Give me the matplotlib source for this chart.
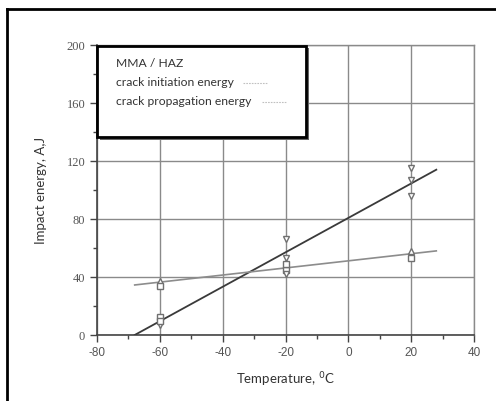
import numpy as np
import matplotlib
matplotlib.use('Agg')
import matplotlib.pyplot as plt
from matplotlib.patches import Rectangle
from matplotlib.lines import Line2D
from matplotlib.ticker import MultipleLocator

plt.rcParams['axes.unicode_minus'] = False

# données
t_init_up = [-60, -20, 20]
e_init_up = [37, 48, 58]
t_init_sq = [-60, -20, 20]
e_init_sq = [34, 45, 53]

t_prop_dn = [-60, -20, -20, -20, 20, 20, 20]
e_prop_dn = [7, 66, 53, 42, 115, 107, 96]
t_prop_sq = [-60, -60, -20]
e_prop_sq = [12.5, 10, 49]

# droites de régression (extrémités lues)
fit_t = [-68, 28]
fit_init = [34.5, 58]
fit_prop = [0, 114]

x_ticks = [-80, -60, -40, -20, 0, 20, 40]
y_ticks = [0, 40, 80, 120, 160, 200]

fig = plt.figure(figsize=(4.96, 4.01), dpi=100)
ax = fig.add_axes([97 / 496, 1 - 335 / 401, 377 / 496, 290 / 401])

# cadre de la figure (bords gauche et haut seulement visibles)
x0, y0 = 7 / 496, 1 - 9 / 401
fig.lines.append(Line2D([x0, x0], [0, y0], transform=fig.transFigure,
                        color='black', lw=2))
fig.lines.append(Line2D([x0, 1], [y0, y0], transform=fig.transFigure,
                        color='black', lw=2))

ax.set_xlim(-80, 40)
ax.set_ylim(0, 200)
ax.set_xticks(x_ticks)
ax.set_yticks(y_ticks)
ax.xaxis.set_minor_locator(MultipleLocator(10))
ax.yaxis.set_minor_locator(MultipleLocator(20))
ax.grid(True, which='major', color='#8a8a8a', lw=1)
ax.set_axisbelow(True)
ax.tick_params(which='major', direction='out', length=5, width=1, color='#444444')
ax.tick_params(which='minor', direction='out', length=3, width=1, color='#444444')
for lab in ax.get_xticklabels():
    lab.set_family('Liberation Sans')
    lab.set_fontsize(8.5)
    lab.set_color('#555555')
for lab in ax.get_yticklabels():
    lab.set_family('Liberation Serif')
    lab.set_fontsize(9)
    lab.set_color('#555555')
for s in ['left', 'bottom']:
    ax.spines[s].set_color('#444444')
    ax.spines[s].set_linewidth(1.2)
for s in ['top', 'right']:
    ax.spines[s].set_color('#8a8a8a')
    ax.spines[s].set_linewidth(1)

ax.plot(fit_t, fit_prop, color='#3a3a3a', lw=1.3, zorder=3)
ax.plot(fit_t, fit_init, color='#8c8c8c', lw=1.2, zorder=3)

mk = dict(linestyle='none', mfc='white', mec='#707070', mew=1, ms=5, zorder=4)
ax.plot(t_init_up, e_init_up, marker='^', **mk)
ax.plot(t_init_sq, e_init_sq, marker='s', **mk)
ax.plot(t_prop_dn, e_prop_dn, marker='v', **mk)
ax.plot(t_prop_sq, e_prop_sq, marker='s', **mk)

# encadré de légende
ax.add_patch(Rectangle((-79, 134.8), 66.5, 63, facecolor='#666666', edgecolor='none',
                       zorder=5, clip_on=False))
ax.add_patch(Rectangle((-80, 136.5), 66.5, 63, facecolor='white', edgecolor='black',
                       lw=2, zorder=6, clip_on=False))
txt = dict(fontsize=8.7, family='Lato', color='#333333', va='center', zorder=7)
ax.text(-74, 187, 'MMA / HAZ', **txt)
ax.text(-74, 174, 'crack initiation energy', **txt)
ax.text(-74, 161, 'crack propagation energy', **txt)
ax.plot([-33.5, -25.5], [174, 174], color='#c0c0c0', lw=0.8, ls=(0, (1.5, 1)), zorder=7)
ax.plot([-27.5, -19.5], [161, 161], color='#c0c0c0', lw=0.8, ls=(0, (1.5, 1)), zorder=7)

ax.set_xlabel('Temperature, $^{0}$C', fontsize=9.5, family='Lato', color='#333333',
              labelpad=8)
ax.set_ylabel('Impact energy, A,J', fontsize=9.5, family='Lato', color='#333333',
              labelpad=14)

fig.savefig('out.png', dpi=100)
